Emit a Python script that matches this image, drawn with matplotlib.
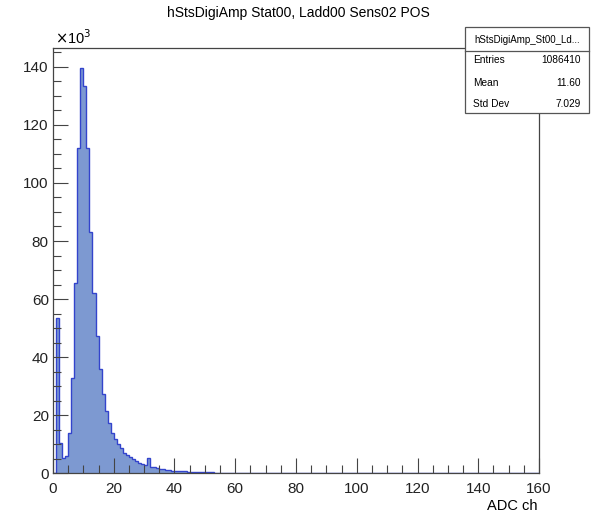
import numpy as np
import matplotlib
matplotlib.use("Agg")
import matplotlib.pyplot as plt
from matplotlib.ticker import MultipleLocator
from matplotlib.patches import Rectangle

plt.rcParams['font.family'] = ['Liberation Sans', 'DejaVu Sans']

# histogram: 160 bins of 1 ADC ch from 0 to 160, contents in units of 10^3
bin_edges = list(range(0, 161))
counts_k = [
    0.0, 53.5, 10.4, 5.2, 5.8, 13.8, 32.8, 65.6, 112.2, 139.5,
    133.3, 112.2, 83.2, 62.1, 47.2, 35.9, 27.4, 21.6, 17.3, 13.8,
    11.7, 10.1, 8.6, 7.1, 6.3, 5.5, 4.8, 4.4, 3.7, 3.2,
    2.9, 5.4, 2.3, 2.0, 1.8, 1.6, 1.4, 1.25, 1.1, 0.95,
    0.85, 0.75, 0.7, 0.62, 0.55, 0.5, 0.45, 0.42, 0.38, 0.35,
    0.32, 0.3, 0.28, 0.26, 0.24, 0.22, 0.2, 0.19, 0.18, 0.17,
    0.16, 0.15, 0.14, 0.12, 0.05,
]
counts_k = counts_k + [0.0] * (160 - len(counts_k))

title = "hStsDigiAmp Stat00, Ladd00 Sens02 POS"
x_label = "ADC ch"
stats_name = "hStsDigiAmp_St00_Ld..."
stats_rows = [("Entries", "1086410"), ("Mean", "11.60"), ("Std Dev", "7.029")]

fig = plt.figure(figsize=(5.96, 5.15), dpi=100)
ax = fig.add_axes([0.0889, 0.081, 0.8155, 0.8258])

ax.stairs(counts_k, bin_edges, fill=True, color='#7d99d1', lw=0)
ax.stairs(counts_k, bin_edges, color='#3344cc', lw=1.0)

ax.set_xlim(0, 160)
ax.set_ylim(0, 1.05 * max(counts_k))

ax.xaxis.set_major_locator(MultipleLocator(20))
ax.xaxis.set_minor_locator(MultipleLocator(5))
ax.yaxis.set_major_locator(MultipleLocator(20))
ax.yaxis.set_minor_locator(MultipleLocator(5))
ax.tick_params(which='both', direction='in', top=False, right=False,
               colors='#444444', labelcolor='#222222', labelsize=11, width=0.8)
ax.tick_params(which='major', length=11)
ax.tick_params(which='minor', length=5.5)
ax.tick_params(axis='x', pad=6)
ax.tick_params(axis='y', pad=3)

for s in ax.spines.values():
    s.set_color('#444444')
    s.set_linewidth(0.9)

fig.text(0.5, 0.975, title, ha='center', va='center', fontsize=10)
fig.text(0.092, 0.926, r"$\times$10$^3$", ha='left', va='center', fontsize=10.5)
fig.text(0.902, 0.018, x_label, ha='right', va='center', fontsize=10.5)

# stats box
bx0, bx1 = 465 / 596, 589 / 596
by_top, by_bot = 1 - 27 / 515, 1 - 113 / 515
fig.patches.append(Rectangle((bx0, by_bot), bx1 - bx0, by_top - by_bot,
                             transform=fig.transFigure, facecolor='white',
                             edgecolor='#555555', lw=0.9, zorder=5))
sep_y = 1 - 51 / 515
fig.lines.append(plt.Line2D([bx0, bx1], [sep_y, sep_y], transform=fig.transFigure,
                            color='#555555', lw=0.9, zorder=6))
fig.text((bx0 + bx1) / 2, 1 - 40 / 515, stats_name, ha='center', va='center',
         fontsize=7, zorder=7)
row_y = [60, 82.5, 104]
for (lab, val), yy in zip(stats_rows, row_y):
    fig.text(473 / 596, 1 - yy / 515, lab, ha='left', va='center', fontsize=7.3, zorder=7)
    fig.text(581 / 596, 1 - yy / 515, val, ha='right', va='center', fontsize=7.3, zorder=7)

fig.savefig("out.png", dpi=100, facecolor='white')
